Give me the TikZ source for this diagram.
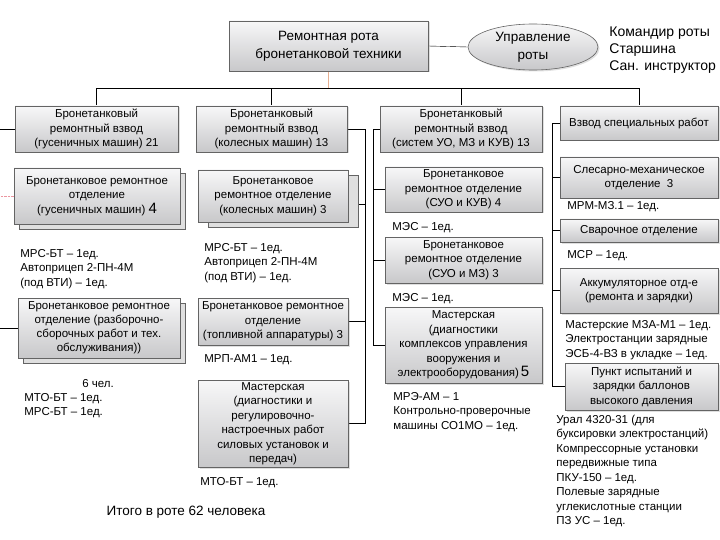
\documentclass[tikz,border=0pt]{standalone}
\usepackage{fontspec}
\setmainfont{Liberation Sans}
\usetikzlibrary{shapes.geometric, shadows, backgrounds}
\definecolor{boxline}{RGB}{100,100,100}
\definecolor{boxtop}{RGB}{247,247,248}
\definecolor{boxbot}{RGB}{200,200,202}
\definecolor{stemline}{RGB}{230,175,145}
\definecolor{pinkline}{RGB}{235,150,160}

\begin{document}
\begin{tikzpicture}[x=1pt, y=-1pt, line width=0.8pt,
    boxbase/.style={draw=boxline, line width=0.6pt, top color=boxtop, bottom color=boxbot,
        align=center, inner sep=1.5pt, font=\fontsize{11.5}{14.5}\selectfont},
    box/.style={boxbase, drop shadow={shadow xshift=1.5pt, shadow yshift=-1.5pt, opacity=.25}},
    stack/.style={boxbase, general shadow={shadow xshift=#1pt, shadow yshift=-5pt,
        fill=gray!25, draw=boxline, line width=0.6pt}},
    stack/.default=5,
    note/.style={anchor=west, align=left, inner sep=0pt, font=\fontsize{11.5}{14.5}\selectfont},
    big/.style={font=\fontsize{13.5}{18}\selectfont}]
    \useasboundingbox (0,0) rectangle (720,540);

    \node[box, big, minimum width=199pt, minimum height=50pt] (rota) at (328.5,46) {Ремонтная рота\\бронетанковой техники};
    \node[box, big, ellipse, inner sep=0pt, minimum width=130pt, minimum height=46pt] (upr) at (533,47) {Управление\\роты};
    \node[note, font=\fontsize{14}{17}\selectfont] (sostav) at (609,50) {Командир роты\\Старшина\\Сан. инструктор};

    \node[box, minimum width=163pt, minimum height=46pt] (vzvGus) at (96.5,129) {Бронетанковый\\ремонтный взвод\\(гусеничных машин) 21};
    \node[box, minimum width=151pt, minimum height=46pt] (vzvKol) at (271.5,129) {Бронетанковый\\ремонтный взвод\\(колесных машин) 13};
    \node[box, minimum width=162pt, minimum height=46pt] (vzvSys) at (461,129) {Бронетанковый\\ремонтный взвод\\(систем УО, МЗ и КУВ) 13};
    \node[box, minimum width=158pt, minimum height=34pt] (vzvSpec) at (639,123) {Взвод специальных работ};

    \node[stack, minimum width=166pt, minimum height=56pt] (otdGus) at (97,196) {Бронетанковое ремонтное\\отделение\\(гусеничных машин) {\fontsize{15}{15}\selectfont 4}};
    \node[note] (tehGus) at (20,269) {МРС-БТ – 1ед.\\Автоприцеп 2-ПН-4М\\(под ВТИ) – 1ед.};
    \node[stack, minimum width=162pt, minimum height=60pt, font=\fontsize{11.5}{14}\selectfont] (otdRaz) at (99,328) {Бронетанковое ремонтное\\отделение (разборочно-\\сборочных работ и тех.\\обслуживания))};
    \node[note, font=\fontsize{11.5}{14}\selectfont] (tehRaz) at (24,399) {\hspace*{58pt}6 чел.\\МТО-БТ – 1ед.\\МРС-БТ – 1ед.};

    \node[stack=10, minimum width=150pt, minimum height=52pt] (otdKol) at (273,196) {Бронетанковое\\ремонтное отделение\\(колесных машин) 3};
    \node[note] (tehKol) at (204,263) {МРС-БТ – 1ед.\\Автоприцеп 2-ПН-4М\\(под ВТИ) – 1ед.};
    \node[box, minimum width=150pt, minimum height=47pt] (otdTop) at (273,321.5) {Бронетанковое ремонтное\\отделение\\(топливной аппаратуры) 3};
    \node[note] (tehTop) at (204,360) {МРП-АМ1 – 1ед.};
    \node[box, minimum width=150pt, minimum height=87pt] (masSil) at (273,423.5) {Мастерская\\(диагностики и\\регулировочно-\\настроечных работ\\силовых установок и\\передач)};
    \node[note] (tehSil) at (200,483) {МТО-БТ – 1ед.};
    \node[inner sep=0pt, font=\fontsize{13.5}{16}\selectfont] (itogo) at (186,512) {Итого в роте 62 человека};

    \node[box, minimum width=157pt, minimum height=45pt] (otdKuv) at (463.5,189.5) {Бронетанковое\\ремонтное отделение\\(СУО и КУВ) 4};
    \node[note] (tehKuv) at (392,228) {МЭС – 1ед.};
    \node[box, minimum width=157pt, minimum height=46pt] (otdMz) at (463.5,260) {Бронетанковое\\ремонтное отделение\\(СУО и МЗ) 3};
    \node[note] (tehMz) at (392,299) {МЭС – 1ед.};
    \node[box, minimum width=157pt, minimum height=76pt] (masVoor) at (463.5,345) {Мастерская\\(диагностики\\комплексов управления\\вооружения и\\электрооборудования)\,{\fontsize{15}{15}\selectfont 5}};
    \node[note] (tehVoor) at (393,412) {МРЭ-АМ – 1\\Контрольно-проверочные\\машины СО1МО – 1ед.};

    \node[box, minimum width=158pt, minimum height=41pt] (otdSles) at (639,177.5) {Слесарно-механическое\\отделение~~3};
    \node[note] (tehSles) at (567,207) {МРМ-МЗ.1 – 1ед.};
    \node[box, minimum width=158pt, minimum height=23pt] (otdSvar) at (639,230.5) {Сварочное отделение};
    \node[note] (tehSvar) at (567,256) {МСР – 1ед.};
    \node[box, minimum width=158pt, minimum height=45pt] (otdAkk) at (639,290.5) {Аккумуляторное отд-е\\(ремонта и зарядки)};
    \node[note] (tehAkk) at (565,340) {Мастерские МЗА-М1 – 1ед.\\Электростанции зарядные\\ЭСБ-4-ВЗ в укладке – 1ед.};
    \node[box, minimum width=153pt, minimum height=47pt] (punkt) at (641.5,386.5) {Пункт испытаний и\\зарядки баллонов\\высокого давления};
    \node[note] (tehPunkt) at (556,471) {Урал 4320-31 (для\\буксировки электростанций)\\Компрессорные установки\\передвижные типа\\ПКУ-150 – 1ед.\\Полевые зарядные\\углекислотные станции\\ПЗ УС – 1ед.};

    \begin{scope}[on background layer]
    \coordinate (bus) at (0,88);
    \coordinate (edge) at (0,0);
    \coordinate (busKol) at (365,0);
    \coordinate (busSys) at (373,0);
    \coordinate (busSpec) at (552,0);
    \draw[stemline] (rota.south) -- (rota.south |- bus);
    \draw (vzvGus.north |- bus) -- (vzvSpec.north |- bus);
    \foreach \v in {vzvGus, vzvKol, vzvSys, vzvSpec}
        \draw (\v.north) -- (\v.north |- bus);
    \draw (rota.east) -- (upr.west);
    \draw (vzvGus.west) -- (vzvGus.west -| edge);
    \draw (otdRaz.west) -- (otdRaz.west -| edge);
    \draw[pinkline, densely dotted] (otdGus.west) -- (otdGus.west -| edge);
    \draw (vzvKol.east) -- (vzvKol.east -| busKol) -- (busKol |- masSil.east) -- (masSil.east);
    \draw ([yshift=-8pt]otdKol.east) -- ([yshift=-8pt]otdKol.east -| busKol);
    \draw (otdTop.east) -- (otdTop.east -| busKol);
    \draw (vzvSys.west) -- (vzvSys.west -| busSys) -- (busSys |- masVoor.west) -- (masVoor.west);
    \foreach \v in {otdKuv, otdMz}
        \draw (\v.west) -- (\v.west -| busSys);
    \draw (vzvSpec.west) -- (vzvSpec.west -| busSpec) -- (busSpec |- punkt.west) -- (punkt.west);
    \foreach \v in {otdSles, otdSvar, otdAkk}
        \draw (\v.west) -- (\v.west -| busSpec);
    \end{scope}
\end{tikzpicture}
\end{document}
